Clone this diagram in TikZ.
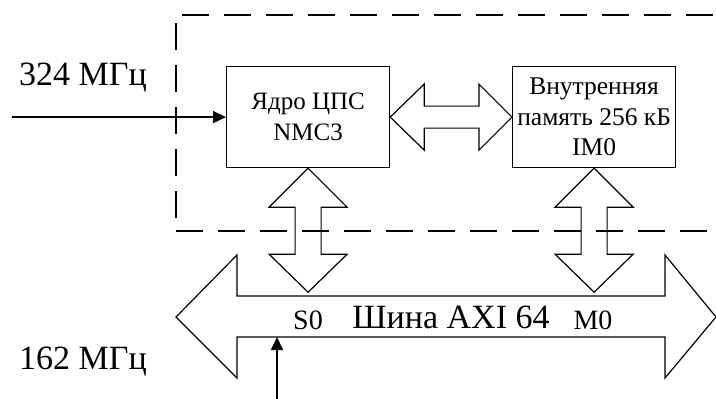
\documentclass[tikz,border=0pt]{standalone}
\usepackage{fontspec}
\setmainfont{Liberation Serif}
\usetikzlibrary{arrows.meta,calc}
\begin{document}
\begin{tikzpicture}[x=1pt,y=-1pt,
  box/.style={draw,line width=1.2pt,inner sep=0pt,anchor=north west},
  blk/.style={draw,line width=1.2pt,line join=miter},
  dsh/.style={line width=1.3pt,dash pattern=on 27pt off 15pt},
  sig/.style={line width=1.7pt,-{Triangle[length=13pt,width=12pt]}},
  big/.style={font=\fontsize{34}{40}\selectfont},
  mid/.style={font=\fontsize{25}{31}\selectfont,align=center},
  sml/.style={font=\fontsize{25.5}{30.5}\selectfont,align=center},
  port/.style={font=\fontsize{28}{32}\selectfont}]
\useasboundingbox (0,0) rectangle (716,399);
% dashed region
\draw[dsh] (182,15) -- (716,15);
\draw[dsh] (176,23) -- (176,231);
\draw[dsh] (176,231) -- (716,231);
% boxes
\node[box,minimum width=163pt,minimum height=101pt] (core) at (226,66) {};
\node[mid] at (core.center) {Ядро ЦПС\\NMC3};
\node[box,minimum width=163pt,minimum height=101pt] (mem) at (512,66) {};
\node[sml] at (mem.center) {Внутренняя\\память 256 кБ\\IM0};
% horizontal double block arrow
\draw[blk] (core.east) -- ++(34,-33) -- ++(0,22) -- ($(mem.west)+(-33,-11)$) -- ++(0,-22) -- (mem.west)
  -- ++(-33,33) -- ++(0,-22) -- ($(core.east)+(34,11)$) -- ++(0,22) -- cycle;
% vertical double block arrows
\draw[blk] (core.south) -- ++(39,39) -- ++(-26,0) -- ++(0,47) -- ++(26,0) -- ++(-39,38)
  -- ++(-39,-38) -- ++(26,0) -- ++(0,-47) -- ++(-26,0) -- cycle;
\draw[blk] (mem.south) -- ++(39,39) -- ++(-26,0) -- ++(0,47) -- ++(26,0) -- ++(-39,38)
  -- ++(-39,-38) -- ++(26,0) -- ++(0,-47) -- ++(-26,0) -- cycle;
% bus
\coordinate (busL) at (176,317);
\coordinate (busR) at (716,317);
\draw[blk] (busL) -- (237,255) -- (237,296) -- (665,296) -- (665,255) -- (busR)
  -- (665,378) -- (665,337) -- (237,337) -- (237,378) -- cycle;
\node[big] (bus) at (451,317) {Шина AXI 64};
\node[port] (s0) at (308,320) {S0};
\node[port] (m0) at (593,320) {M0};
% clock inputs
\node[big] (f1) at (83,78) {324 МГц};
\node[big] (f2) at (83,362) {162 МГц};
\coordinate (in1) at (12,117);
\draw[sig] (in1) -- (core.west);
\coordinate (in2) at (277,399);
\coordinate (busin) at (277,337);
\draw[sig] (in2) -- (busin);
\end{tikzpicture}
\end{document}
